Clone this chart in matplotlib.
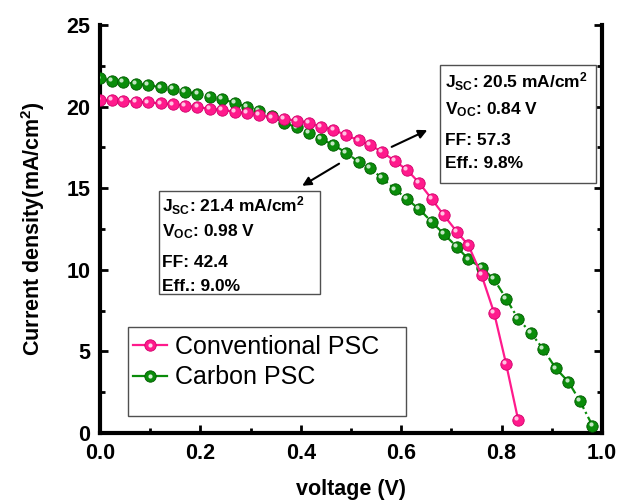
import matplotlib
matplotlib.use("Agg")
import matplotlib.pyplot as plt
from matplotlib.lines import Line2D
from matplotlib.patches import Rectangle
from matplotlib.transforms import offset_copy

plt.rcParams['font.family'] = ['Liberation Sans', 'DejaVu Sans']
plt.rcParams['mathtext.fontset'] = 'custom'
plt.rcParams['mathtext.rm'] = 'Liberation Sans'
plt.rcParams['mathtext.bf'] = 'Liberation Sans:bold'
plt.rcParams['mathtext.it'] = 'Liberation Sans:italic'

# ---- data ----
voltage = [0.000, 0.023, 0.046, 0.071, 0.096, 0.121, 0.145, 0.169, 0.194, 0.219,
           0.243, 0.268, 0.292, 0.317, 0.342, 0.367, 0.392, 0.416, 0.440, 0.465,
           0.490, 0.515, 0.538, 0.562, 0.588, 0.612, 0.636, 0.661, 0.685, 0.711,
           0.734, 0.760, 0.785, 0.809, 0.833, 0.859, 0.883, 0.908, 0.933, 0.956,
           0.981]
conv_j = [20.40, 20.40, 20.36, 20.30, 20.26, 20.20, 20.14, 20.06, 19.96, 19.87,
          19.79, 19.69, 19.59, 19.47, 19.34, 19.24, 19.14, 19.00, 18.77, 18.57,
          18.26, 17.93, 17.65, 17.22, 16.65, 16.11, 15.32, 14.33, 13.34, 12.33,
          11.49, 9.68, 7.37, 4.23, 0.80]
carbon_j = [21.73, 21.59, 21.49, 21.40, 21.32, 21.18, 21.06, 20.91, 20.77, 20.57,
            20.45, 20.24, 19.99, 19.75, 19.42, 19.01, 18.73, 18.40, 18.01, 17.65,
            17.18, 16.62, 16.22, 15.61, 14.93, 14.32, 13.71, 12.93, 12.19, 11.40,
            10.64, 10.13, 9.42, 8.23, 7.00, 6.11, 5.13, 3.96, 3.14, 1.96,
            0.45]
conv_v = voltage[:len(conv_j)]
carbon_v = voltage[:len(carbon_j)]

series_labels = ["Conventional PSC", "Carbon PSC"]
conv_info = [r"$\mathbf{J_{SC}}$: 20.5 mA/cm$^{\mathbf{2}}$",
             r"$\mathbf{V_{OC}}$: 0.84 V", "FF: 57.3", "Eff.: 9.8%"]
carbon_info = [r"$\mathbf{J_{SC}}$: 21.4 mA/cm$^{\mathbf{2}}$",
               r"$\mathbf{V_{OC}}$: 0.98 V", "FF: 42.4", "Eff.: 9.0%"]

pink, pink_edge = '#ff1a8c', '#d0006a'
green, green_edge = '#0a8c0a', '#005a00'

fig = plt.figure(figsize=(6.22, 5.0), dpi=100)
ax = fig.add_axes([100/622, 67/500, 502/622, 408/500])

hl = offset_copy(ax.transData, fig=fig, x=-1.3, y=1.3, units='points')

# carbon (below)
ax.plot(carbon_v, carbon_j, color=green, lw=1.6, ls=(0, (4, 1.5, 1, 1.5)),
        marker='o', ms=8.2, mfc=green, mec=green_edge, mew=0.6, zorder=3)
ax.plot(carbon_v, carbon_j, ls='none', marker='o', ms=3.0, mfc='#d8f0d8',
        mec='none', alpha=0.9, transform=hl, zorder=3.1)
# conventional (above)
ax.plot(conv_v, conv_j, color=pink, lw=1.6, ls='-',
        marker='o', ms=8.2, mfc=pink, mec=pink_edge, mew=0.6, zorder=4)
ax.plot(conv_v, conv_j, ls='none', marker='o', ms=3.0, mfc='#ffd8ec',
        mec='none', alpha=0.9, transform=hl, zorder=4.1)

ax.set_xlim(0, 1.0)
ax.set_ylim(0, 25)
ax.set_xticks([0.0, 0.2, 0.4, 0.6, 0.8, 1.0])
ax.set_xticks([0.1, 0.3, 0.5, 0.7, 0.9], minor=True)
ax.set_yticks([0, 5, 10, 15, 20, 25])
ax.set_yticks([2.5, 7.5, 12.5, 17.5, 22.5], minor=True)
ax.set_xticklabels(['0.0', '0.2', '0.4', '0.6', '0.8', '1.0'])

ax.spines['top'].set_visible(False)
for s in ['left', 'right', 'bottom']:
    ax.spines[s].set_linewidth(3.0)
ax.tick_params(which='both', direction='in', top=False, right=True, width=2.0,
               labelsize=15.5, pad=7)
ax.tick_params(which='major', length=6)
ax.tick_params(which='minor', length=3.5)
for lab in ax.get_xticklabels() + ax.get_yticklabels():
    lab.set_fontweight('bold')

ax.set_xlabel('voltage (V)', fontsize=15.5, fontweight='bold', labelpad=11)
ax.set_ylabel(r'Current density(mA/cm$^{\mathbf{2}}$)', fontsize=15.5,
              fontweight='bold', labelpad=14)

# info boxes
def info_box(x0, y0, x1, y1, tx, ys, lines):
    ax.add_patch(Rectangle((x0, y0), x1 - x0, y1 - y0, transform=ax.transAxes,
                           fill=True, facecolor='white', edgecolor='#505050',
                           lw=1.0, zorder=5))
    for y, t in zip(ys, lines):
        ax.text(tx, y, t, transform=ax.transAxes, fontsize=12.5,
                fontweight='bold', va='center', ha='left', zorder=6)

info_box(0.677, 0.613, 0.988, 0.902, 0.687, [0.861, 0.792, 0.718, 0.661], conv_info)
info_box(0.1175, 0.340, 0.438, 0.594, 0.124, [0.556, 0.493, 0.419, 0.358], carbon_info)

ax.annotate('', xy=(0.657, 18.63), xytext=(0.576, 17.46),
            arrowprops=dict(arrowstyle='-|>', color='black', lw=1.5,
                            mutation_scale=13), zorder=6)
ax.annotate('', xy=(0.398, 15.06), xytext=(0.481, 16.59),
            arrowprops=dict(arrowstyle='-|>', color='black', lw=1.5,
                            mutation_scale=13), zorder=6)

# legend
ax.add_patch(Rectangle((0.0564, 0.0417), 0.609 - 0.0564, 0.2605 - 0.0417,
                       transform=ax.transAxes, fill=True, facecolor='white',
                       edgecolor='#505050', lw=1.0, zorder=5))
h1 = (Line2D([], [], color=pink, lw=1.6, marker='o', ms=8.2, mfc=pink,
             mec=pink_edge, mew=0.6),
      Line2D([], [], ls='none', marker='o', ms=3.0, mfc='#ffd8ec', mec='none'))
h2 = (Line2D([], [], color=green, lw=1.6, marker='o', ms=8.2, mfc=green,
             mec=green_edge, mew=0.6),
      Line2D([], [], ls='none', marker='o', ms=3.0, mfc='#d8f0d8', mec='none'))
leg = ax.legend([h1, h2], series_labels, loc='upper left',
                bbox_to_anchor=(0.066, 0.240), frameon=False, fontsize=18,
                handlelength=1.35, handletextpad=0.33, labelspacing=0.25,
                borderpad=0.0, borderaxespad=0.0)
leg.set_zorder(7)

fig.savefig('out.png', dpi=100)
